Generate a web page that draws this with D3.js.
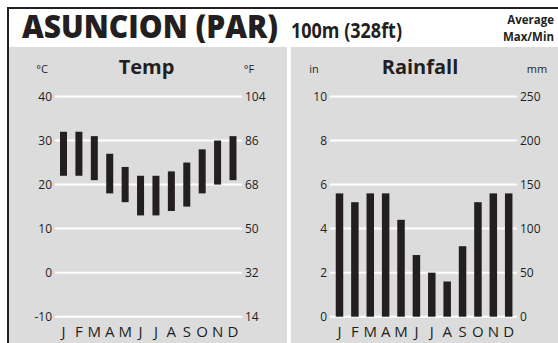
<!DOCTYPE html>
<html>
<head>
<meta charset="utf-8">
<script src="https://cdn.jsdelivr.net/npm/d3@7"></script>
<style>
  body { margin: 0; background: #fff; }
  svg { display: block; font-family: "Open Sans", sans-serif; }
  .tick text { font-size: 12px; fill: #231f20; }
</style>
</head>
<body>
<div id="chart"></div>
<script>
// Data
var months = ["J", "F", "M", "A", "M", "J", "J", "A", "S", "O", "N", "D"];
var monthIds = months.map(function(m, i) { return i; });
var tempMax = [32, 32, 31, 27, 24, 22, 22, 23, 25, 28, 30, 31];
var tempMin = [22, 22, 21, 18, 16, 13, 13, 14, 15, 18, 20, 21];
var rainIn = [5.6, 5.2, 5.6, 5.6, 4.4, 2.8, 2.0, 1.6, 3.2, 5.2, 5.6, 5.6];
var tempTicksC = [-10, 0, 10, 20, 30, 40];
var tempTicksF = [14, 32, 50, 68, 86, 104];
var rainTicksIn = [0, 2, 4, 6, 8, 10];
var rainTicksMm = [0, 50, 100, 150, 200, 250];

var W = 558, H = 343;
var ink = "#231f20";
var panelFill = "#dcdcdd";

var svg = d3.select("#chart").append("svg").attr("width", W).attr("height", H);

// Frame
svg.append("rect").attr("x", 0).attr("y", 0).attr("width", W).attr("height", H).attr("fill", "#fff");
svg.append("rect").attr("x", 9).attr("y", 47).attr("width", 278).attr("height", H - 47).attr("fill", panelFill);
svg.append("rect").attr("x", 291).attr("y", 47).attr("width", W - 291).attr("height", H - 47).attr("fill", panelFill);
svg.append("line").attr("x1", 7).attr("x2", W).attr("y1", 8).attr("y2", 8).attr("stroke", ink).attr("stroke-width", 2);
svg.append("line").attr("x1", 8).attr("x2", 8).attr("y1", 7).attr("y2", H).attr("stroke", ink).attr("stroke-width", 2);

// Header
svg.append("text").attr("x", 22).attr("y", 38)
    .attr("font-size", 32).attr("font-weight", 800).attr("fill", ink)
    .attr("textLength", 256).attr("lengthAdjust", "spacingAndGlyphs")
    .text("ASUNCION (PAR)");
svg.append("text").attr("x", 291).attr("y", 38)
    .attr("font-size", 21).attr("font-weight", "bold").attr("fill", ink)
    .attr("textLength", 111).attr("lengthAdjust", "spacingAndGlyphs")
    .text("100m (328ft)");
svg.append("text").attr("x", 554).attr("y", 24).attr("text-anchor", "end")
    .attr("font-size", 11.5).attr("font-weight", "bold").attr("fill", ink)
    .text("Average");
svg.append("text").attr("x", 554).attr("y", 40.5).attr("text-anchor", "end")
    .attr("font-size", 11.5).attr("font-weight", "bold").attr("fill", ink)
    .text("Max/Min");

// Shared vertical layout
var yTop = 96.5, yBottom = 316.7;

function panel(opts) {
    var g = svg.append("g");
    var y = d3.scaleLinear().domain(opts.domain).range([yBottom, yTop]);
    var x = d3.scalePoint().domain(monthIds).range(opts.barRange);

    // titles
    g.append("text").attr("x", opts.titleX).attr("y", 74).attr("text-anchor", "middle")
        .attr("font-size", 20).attr("font-weight", "bold").attr("fill", ink).text(opts.title);
    g.append("text").attr("x", opts.unitL[0]).attr("y", 73).attr("text-anchor", "middle")
        .attr("font-size", 11).attr("fill", ink).text(opts.unitL[1]);
    g.append("text").attr("x", opts.unitR[0]).attr("y", 73).attr("text-anchor", "middle")
        .attr("font-size", 11).attr("fill", ink).text(opts.unitR[1]);

    // gridlines
    g.selectAll(".grid").data(opts.ticksL).enter().append("line")
        .attr("class", "grid")
        .attr("x1", opts.gridX[0]).attr("x2", opts.gridX[1])
        .attr("y1", function(d) { return y(d); }).attr("y2", function(d) { return y(d); })
        .attr("stroke", "#fff").attr("stroke-width", 2);

    // axes
    var axL = g.append("g").attr("transform", "translate(" + opts.gridX[0] + ",0)")
        .call(d3.axisLeft(y).tickValues(opts.ticksL).tickSize(0).tickPadding(3)
            .tickFormat(function(d) { return String(d); }));
    var axR = g.append("g").attr("transform", "translate(" + opts.gridX[1] + ",0)")
        .call(d3.axisRight(y).tickValues(opts.ticksL).tickSize(0).tickPadding(3)
            .tickFormat(function(d, i) { return String(opts.ticksR[i]); }));
    [axL, axR].forEach(function(ax) {
        ax.select(".domain").remove();
        ax.selectAll("text").attr("font-family", "Open Sans, sans-serif").attr("font-size", 12).attr("fill", ink);
    });

    // bars
    g.selectAll(".bar").data(opts.bars).enter().append("rect")
        .attr("class", "bar")
        .attr("x", function(d, i) { return x(i) - opts.barW / 2; })
        .attr("width", opts.barW)
        .attr("y", function(d) { return y(d[1]); })
        .attr("height", function(d) { return y(d[0]) - y(d[1]); })
        .attr("fill", ink);

    // month labels
    g.selectAll(".month").data(months).enter().append("text")
        .attr("class", "month")
        .attr("x", function(d, i) { return x(i); })
        .attr("y", 337)
        .attr("text-anchor", "middle")
        .attr("font-size", 15).attr("fill", ink)
        .text(function(d) { return d; });
}

panel({
    title: "Temp", titleX: 146.5,
    unitL: [42, "°C"], unitR: [249, "°F"],
    domain: [-10, 40],
    ticksL: tempTicksC, ticksR: tempTicksF,
    gridX: [55, 242],
    barRange: [63.5, 233],
    barW: 7,
    bars: tempMin.map(function(v, i) { return [v, tempMax[i]]; })
});

panel({
    title: "Rainfall", titleX: 420,
    unitL: [314, "in"], unitR: [537, "mm"],
    domain: [0, 10],
    ticksL: rainTicksIn, ticksR: rainTicksMm,
    gridX: [330, 517],
    barRange: [339.5, 508.7],
    barW: 7.5,
    bars: rainIn.map(function(v) { return [0, v]; })
});
</script>
</body>
</html>
